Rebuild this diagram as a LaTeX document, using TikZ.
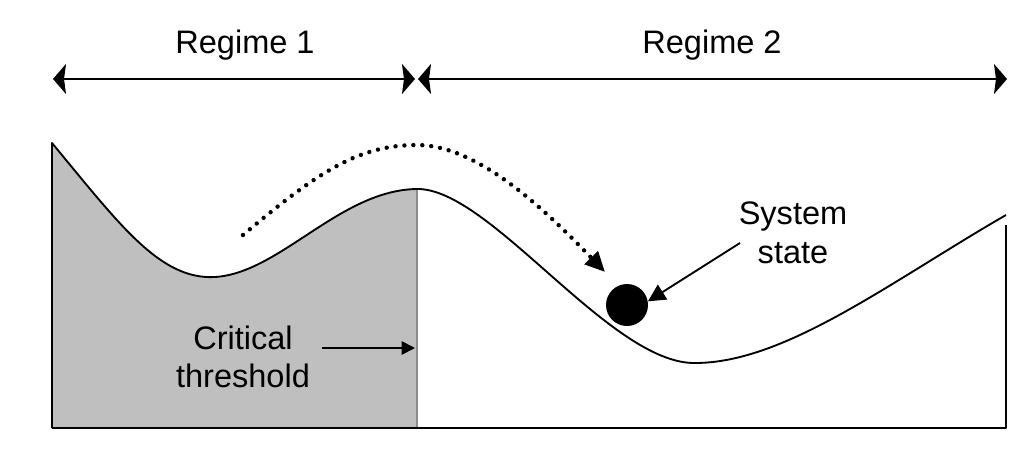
\documentclass[tikz,border=0pt]{standalone}
\usepackage{fontspec}
\setmainfont{Liberation Sans}
\usetikzlibrary{arrows.meta}
\begin{document}
\begin{tikzpicture}[x=0.75pt, y=-0.75pt,
  label text/.style={font=\fontsize{24.4pt}{29pt}\selectfont, align=center, inner sep=0pt},
  span arrow/.style={line width=1.5pt, {Stealth[length=9.75pt, width=22.5pt, inset=1.5pt]}-{Stealth[length=9.75pt, width=22.5pt, inset=1.5pt]}},
  landscape/.style={line width=1.4pt, line join=round},
  pointer/.style={line width=1.4pt, -{Triangle[length=#1, width=#1]}},
  pointer/.default=9pt,
  dotted path/.style={line width=3.3pt, line cap=round, dash pattern=on 0.01pt off 6.7pt,
    -{Triangle[length=15pt, width=13.5pt]}},
  shade/.style={fill=black!25}
]
\useasboundingbox (0,0) rectangle (1035,457);

% shaded basin left of the threshold
\fill[shade] (52,428) -- (52,143) .. controls (120,225) and (160,280) .. (215,277)
  .. controls (280,273) and (340,190) .. (417,189) -- (417,428) -- cycle;
\draw[black!45, line width=1pt] (417,189) -- (417,428);

% potential landscape and frame
\draw[landscape] (52,428) -- (52,143) .. controls (120,225) and (160,280) .. (215,277)
  .. controls (280,273) and (340,190) .. (417,189)
  .. controls (490,188) and (610,364) .. (695,363)
  .. controls (785,363) and (890,282) .. (1006,215);
\draw[landscape] (1006,225) -- (1006,428) -- (52,428);

% regime spans
\coordinate (r1a) at (53,79);
\coordinate (r1b) at (415,79);
\coordinate (r2a) at (418,79);
\coordinate (r2b) at (1007,79);
\draw[span arrow] (r1a) -- (r1b);
\draw[span arrow] (r2a) -- (r2b);
\node[label text] (reg1) at (245,45) {Regime 1};
\node[label text] (reg2) at (712,45) {Regime 2};

% system state ball
\node[circle, fill=black, minimum size=31.5pt, inner sep=0pt] (ball) at (627,305) {};
\node[label text] (sys) at (793,233) {System\\state};
\coordinate (sysfrom) at (740,243);
\draw[pointer=13pt] (sysfrom) -- (ball.10);

% path over the hill
\coordinate (dstart) at (243,235);
\coordinate (dtop) at (417,145);
\coordinate (dend) at (605,272);
\draw[dotted path] (dstart) .. controls (320,170) and (360,145) .. (dtop)
  .. controls (480,145) and (550,215) .. (dend);

% critical threshold label
\node[label text] (crit) at (243,357) {Critical\\threshold};
\coordinate (critfrom) at (322,348);
\coordinate (critto) at (415,348);
\draw[pointer=10pt] (critfrom) -- (critto);
\end{tikzpicture}
\end{document}
